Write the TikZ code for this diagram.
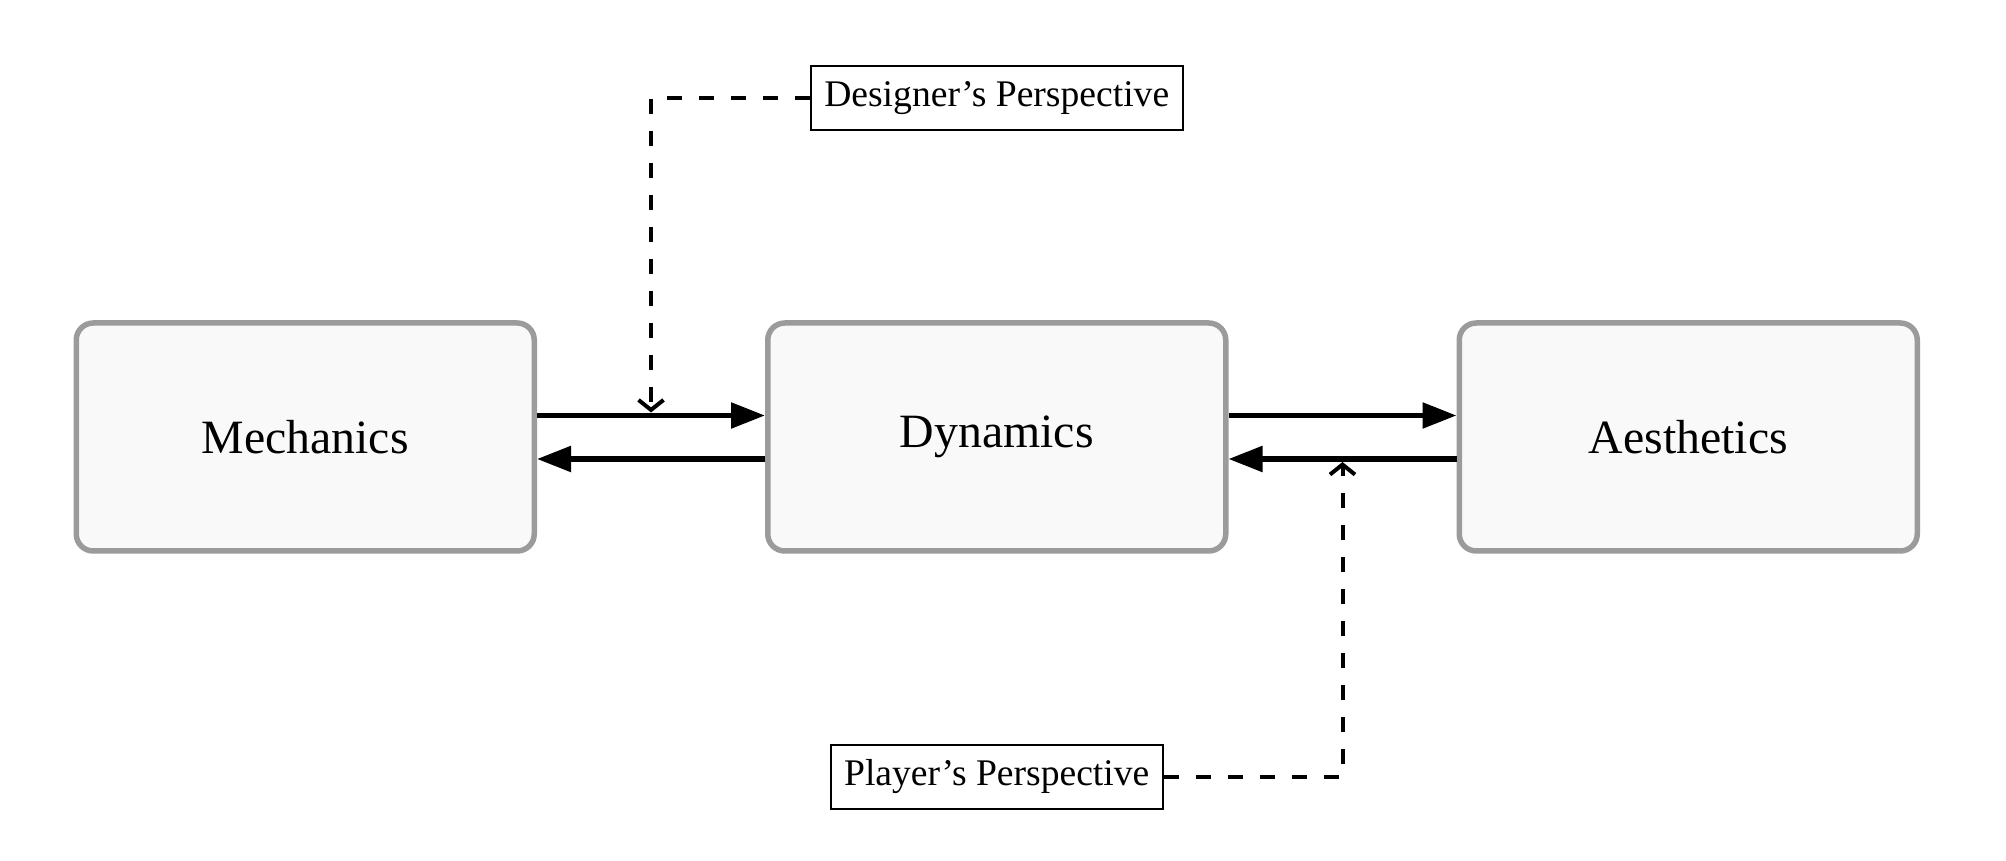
\documentclass[tikz,border=0pt]{standalone}
\usepackage{fontspec}
\setmainfont{Liberation Serif}
\usepackage{xcolor}
\usepackage{tikz}
\usetikzlibrary{positioning,arrows.meta}

\definecolor{boxgray}{HTML}{9B9B9B}
\definecolor{boxfill}{HTML}{F9F9F9}

\begin{document}
\begin{tikzpicture}[
    stage/.style={draw=boxgray, fill=boxfill, line width=0.055cm, rounded corners=0.17cm,
        minimum width=4.58cm, minimum height=2.28cm, font=\fontsize{13.6}{16}\selectfont},
    view/.style={draw, line width=0.02cm, inner xsep=0.135cm, minimum height=0.645cm,
        font=\fontsize{10.7}{13}\selectfont},
    flow/.style={-{Triangle[length=0.34cm,width=0.25cm]}, line width=0.055cm},
    lens/.style={dash pattern=on 0.15cm off 0.17cm, line width=0.04cm,
        -{Straight Barb[length=0.1cm,width=0.25cm]}}
  ]
    \useasboundingbox (0,0) rectangle (20.06,8.6);

    % The three stages
    \node[stage] (mech) at (3.0525,4.23) {Mechanics};
    \node[stage, right=2.28cm of mech] (dyn) {Dynamics};
    \node[stage, right=2.28cm of dyn] (aes) {Aesthetics};

    % Perspectives
    \node[view, above=1.89cm of dyn] (designer) {Designer’s Perspective};
    \node[view, below=1.90cm of dyn] (player) {Player’s Perspective};

    % Forward arrows
    \draw[flow] ([yshift=0.215cm]mech.east) -- coordinate (md) ([yshift=0.215cm]dyn.west);
    \draw[flow] ([yshift=0.215cm]dyn.east) -- ([yshift=0.215cm]aes.west);

    % Backward arrows
    \draw[flow] ([yshift=-0.22cm]dyn.west) -- ([yshift=-0.22cm]mech.east);
    \draw[flow] ([yshift=-0.22cm]aes.west) -- coordinate (ad) ([yshift=-0.22cm]dyn.east);

    % Dashed pointers
    \draw[lens] (designer.west) -| ([yshift=0.03cm]md);
    \draw[lens] (player.east) -| ([yshift=-0.03cm]ad);
\end{tikzpicture}
\end{document}
